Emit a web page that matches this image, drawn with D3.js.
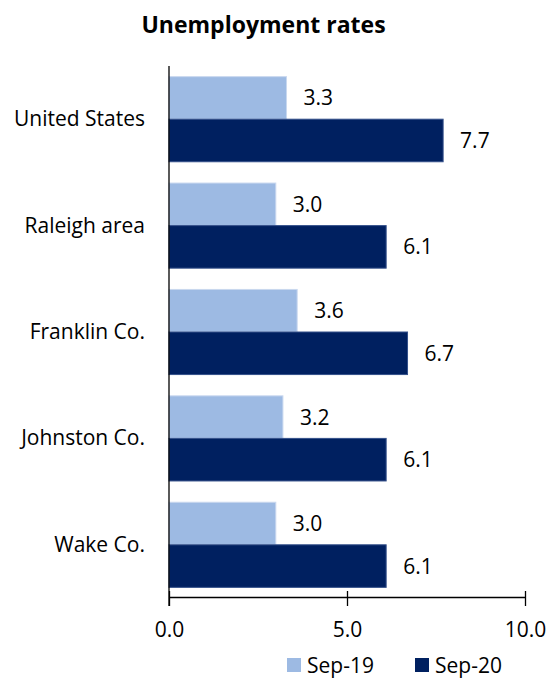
<!DOCTYPE html>
<html>
<head>
<meta charset="utf-8">
<script src="https://cdn.jsdelivr.net/npm/d3@7"></script>
<style>
  html, body { margin: 0; padding: 0; background: #fff; }
  svg { display: block; }
  text { font-family: "Open Sans", "Noto Sans", sans-serif; fill: #000; }
</style>
</head>
<body>
<svg id="chart" width="549" height="679"></svg>
<script>
const title = "Unemployment rates";
const categories = ["United States", "Raleigh area", "Franklin Co.", "Johnston Co.", "Wake Co."];
const seriesNames = ["Sep-19", "Sep-20"];
const sep19 = [3.3, 3.0, 3.6, 3.2, 3.0];
const sep20 = [7.7, 6.1, 6.7, 6.1, 6.1];
const xTicks = [0, 5, 10];
const colors = ["#9dbae3", "#002060"];
const strokes = ["#c9d8ef", "#34508a"];

const svg = d3.select("#chart");
const fs = 21;

const x = d3.scaleLinear().domain([0, 10]).range([169, 525]);
const y = d3.scaleBand().domain(categories).range([66, 598]).paddingInner(0.2).paddingOuter(0.1);
const yi = d3.scaleBand().domain(seriesNames).range([0, y.bandwidth()]);

const values = [sep19, sep20];
const data = categories.map((c, i) => ({ cat: c, vals: seriesNames.map((s, j) => ({ s, j, v: values[j][i] })) }));

// title
svg.append("text").attr("text-anchor", "middle").style("font-weight", "bold").style("font-size", "23px")
  .attr("x", 263.5).attr("y", 32.5).text(title);

// bars
const g = svg.append("g").selectAll("g").data(data).join("g")
  .attr("transform", d => `translate(0,${y(d.cat)})`);
g.selectAll("rect").data(d => d.vals).join("rect")
  .attr("x", x(0)).attr("y", d => yi(d.s))
  .attr("width", d => x(d.v) - x(0)).attr("height", yi.bandwidth())
  .attr("fill", d => colors[d.j]).attr("stroke", d => strokes[d.j]).attr("stroke-width", 1);
g.selectAll("text.val").data(d => d.vals).join("text").attr("class", "val")
  .style("font-size", fs + "px").text(d => d.v.toFixed(1))
  .attr("x", d => x(d.v) + 17).attr("y", d => yi(d.s) + yi.bandwidth() / 2 + 7.5);

// category labels
svg.append("g").selectAll("text").data(categories).join("text")
  .attr("text-anchor", "end").style("font-size", fs + "px").text(d => d)
  .attr("x", 145).attr("y", d => y(d) + y.bandwidth() / 2 + 7);

// x axis
const xAxis = d3.axisBottom(x).tickValues(xTicks).tickFormat(d3.format(".1f")).tickSize(9).tickSizeOuter(0);
const ax = svg.append("g").attr("transform", "translate(0,597)").call(xAxis);
ax.attr("font-family", null).attr("font-size", null);
ax.select(".domain").attr("stroke", "#000").attr("stroke-width", 1.3);
ax.selectAll(".tick line").attr("stroke", "#000").attr("stroke-width", 1.3).attr("y1", -6);
ax.selectAll(".tick text").style("font-size", fs + "px").attr("fill", "#000")
  .attr("dy", null).attr("y", 40);

// y axis line
svg.append("line").attr("x1", x(0)).attr("x2", x(0)).attr("y1", 66).attr("y2", 606)
  .attr("stroke", "#000").attr("stroke-width", 1.3);

// legend
const legX = [287, 415];
const lg = svg.append("g").selectAll("g").data(seriesNames).join("g")
  .attr("transform", (d, i) => `translate(${legX[i]},658)`);
lg.append("rect").attr("width", 14).attr("height", 14).attr("fill", (d, i) => colors[i]);
lg.append("text").style("font-size", fs + "px").text(d => d)
  .attr("x", 20).attr("y", 14.5);
</script>
</body>
</html>
